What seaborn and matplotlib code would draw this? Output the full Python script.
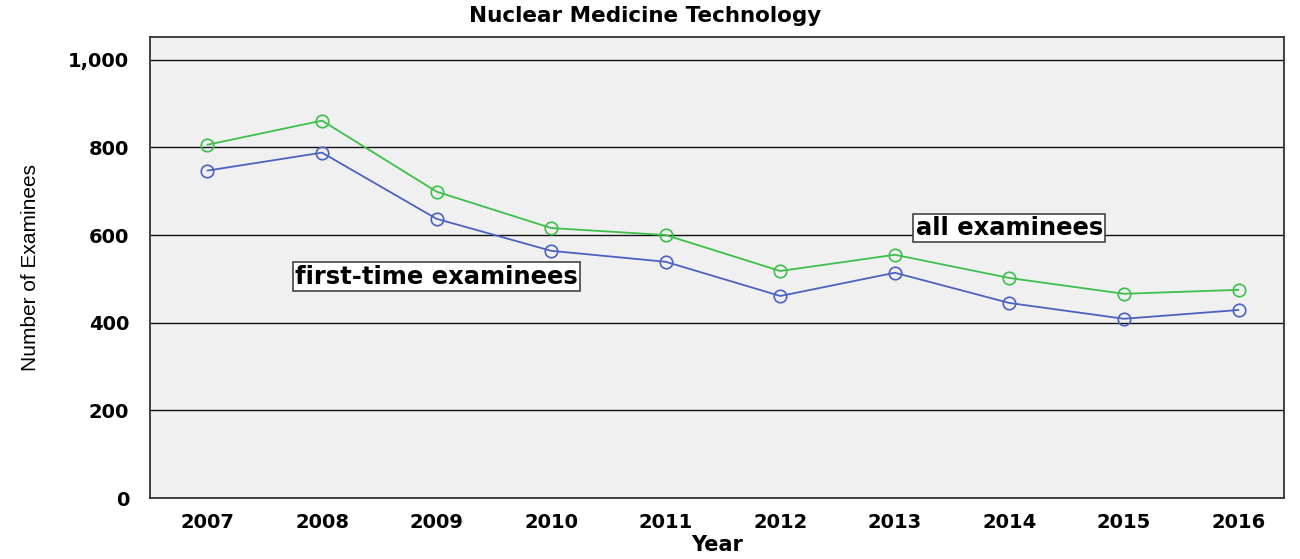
import numpy as np
import pandas as pd
import matplotlib.pyplot as plt
import seaborn as sns

years = [2007, 2008, 2009, 2010, 2011, 2012, 2013, 2014, 2015, 2016]
all_examinees = [806, 861, 699, 616, 600, 518, 555, 502, 466, 475]
first_time = [747, 788, 637, 564, 539, 461, 514, 445, 409, 429]

df = pd.DataFrame({
    "Year": years * 2,
    "count": all_examinees + first_time,
    "group": ["all examinees"] * 10 + ["first-time examinees"] * 10,
})

sns.set_style("white")
plt.rcParams["font.family"] = ["DejaVu Sans"]
plt.rcParams["text.color"] = "black"

fig, ax = plt.subplots(figsize=(13, 5.59), dpi=100)
fig.subplots_adjust(left=0.1155, right=0.988, top=0.934, bottom=0.109)

sns.lineplot(data=df, x="Year", y="count", hue="group",
             palette={"all examinees": "#3dbf4c", "first-time examinees": "#4b62c0"},
             marker="o", markersize=9, markerfacecolor="none", markeredgewidth=1.2,
             linewidth=1.3, legend=False, ax=ax)
for line in ax.lines:
    line.set_markeredgecolor(line.get_color())

ax.set_facecolor("#f0f0f0")
ax.set_xlim(2006.5, 2016.4)
ax.set_ylim(0, 1052)
ax.set_xticks(years)
ax.set_yticks([0, 200, 400, 600, 800, 1000])
ax.set_yticklabels(["0", "200", "400", "600", "800", "1,000"])
ax.yaxis.grid(True, color="#111111", linewidth=1)
ax.set_axisbelow(True)
for s in ax.spines.values():
    s.set_color("#333333")
    s.set_linewidth(1.3)
ax.tick_params(axis="both", direction="out", width=1.3, color="#333333",
               labelsize=14, labelcolor="black")
ax.tick_params(axis="x", length=7, pad=4)
ax.tick_params(axis="y", length=13, pad=2)
for lab in ax.get_xticklabels() + ax.get_yticklabels():
    lab.set_fontweight("bold")

fig.suptitle("Nuclear Medicine Technology", fontsize=15.5, fontweight="bold",
             x=0.496, y=0.99, color="black")
ax.set_xlabel("Year", fontsize=15, fontweight="bold", labelpad=2, color="black")
ax.set_ylabel("Number of Examinees", fontsize=15,
              family=["Liberation Sans Narrow", "Liberation Sans", "DejaVu Sans"],
              labelpad=20, color="black")

box = dict(boxstyle="square,pad=0.1", facecolor="white", edgecolor="#444444", linewidth=1.2)
ax.text(2009.0, 505, "first-time examinees", fontsize=17.5, fontweight="bold",
        ha="center", va="center", bbox=box)
ax.text(2014.0, 616, "all examinees", fontsize=17.5, fontweight="bold",
        ha="center", va="center", bbox=box)

plt.savefig("out.png", dpi=100)
